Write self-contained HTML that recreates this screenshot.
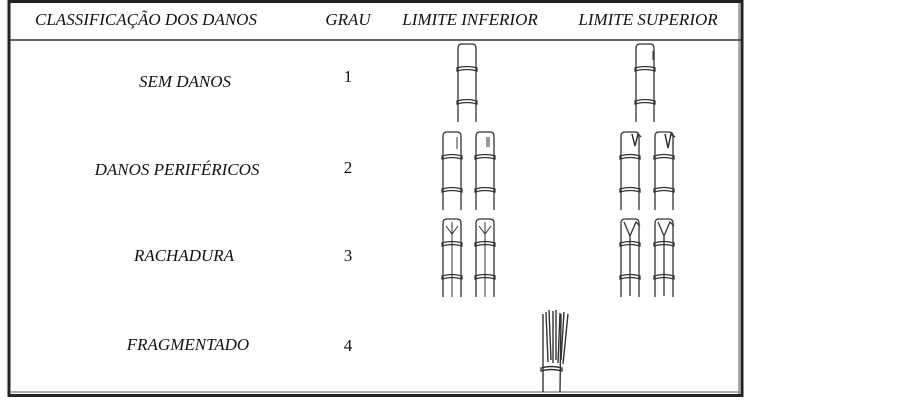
<!DOCTYPE html>
<html><head><style>body{margin:0;background:#fff}svg{display:block}</style></head><body>
<svg width="903" height="400" viewBox="0 0 903 400" xmlns="http://www.w3.org/2000/svg" font-family="Liberation Serif, serif" font-size="17" fill="#111">
<defs>
<g id="cyl" fill="none" stroke="#333" stroke-width="1.3">
<path d="M0,4 Q0,0 4,0 L14,0 Q18,0 18,4 L18,78"/>
<path d="M0,4 L0,78"/>
<path d="M-1,24 Q9,21 19,24 L19,27 Q9,24 -1,27Z"/>
<path d="M-1,57 Q9,54 19,57 L19,60 Q9,57 -1,60Z"/>
</g>
</defs>
<rect x="9" y="1.5" width="733" height="394" fill="none" stroke="#222" stroke-width="3"/>
<line x1="739" y1="3" x2="739" y2="394" stroke="#555" stroke-width="1"/>
<line x1="11" y1="392" x2="739" y2="392" stroke="#555" stroke-width="1"/>
<line x1="10" y1="40" x2="741" y2="40" stroke="#333" stroke-width="1.5"/>
<g font-style="italic" text-anchor="middle">
<text x="146" y="25">CLASSIFICAÇÃO DOS DANOS</text>
<text x="348" y="25">GRAU</text>
<text x="470" y="25">LIMITE INFERIOR</text>
<text x="648" y="25">LIMITE SUPERIOR</text>
<text x="185" y="87">SEM DANOS</text>
<text x="177" y="175">DANOS PERIFÉRICOS</text>
<text x="184" y="261">RACHADURA</text>
<text x="188" y="350">FRAGMENTADO</text>
</g>
<g text-anchor="middle" font-size="17">
<text x="348" y="82">1</text><text x="348" y="173">2</text><text x="348" y="261">3</text><text x="348" y="351">4</text>
</g>
<use href="#cyl" x="458" y="44"/>
<use href="#cyl" x="636" y="44"/>
<path d="M653,51 L653,60" stroke="#333"/>
<use href="#cyl" x="443" y="132"/><use href="#cyl" x="476" y="132"/>
<use href="#cyl" x="621" y="132"/><use href="#cyl" x="655" y="132"/>
<path d="M457,137 v12 M489,137 v10 M487,137 v10" stroke="#333"/>
<path d="M632,134 l3,12 l3,-12 l3,3 M665,134 l3,14 l3,-14 l4,3" stroke="#333" fill="none" stroke-width="1.5"/>
<use href="#cyl" x="443" y="219"/><use href="#cyl" x="476" y="219"/>
<path d="M452,222 v75 M485,222 v75 M446,226 l6,8 l6,-8 M479,226 l6,8 l6,-8" stroke="#333" fill="none"/>
<use href="#cyl" x="621" y="219"/><use href="#cyl" x="655" y="219"/>
<path d="M624,222 l6,14 l6,-14 l4,4 M658,222 l6,14 l6,-14 l4,4 M630,236 v60 M664,236 v60" stroke="#333" fill="none" stroke-width="1.3"/>
<g stroke="#333" fill="none" stroke-width="1.4">
<path d="M543,314 L543,392 M561,314 L560,392 M546,312 l2,50 M549,310 l2,50 M553,311 l0,52 M556,310 l0,50 M560,313 l-2,50 M564,312 l-3,48 M568,314 l-5,50"/>
<path d="M541,368 Q551,365 562,368 L562,371 Q551,368 541,371Z"/>
</g>
</svg>
</body></html>
